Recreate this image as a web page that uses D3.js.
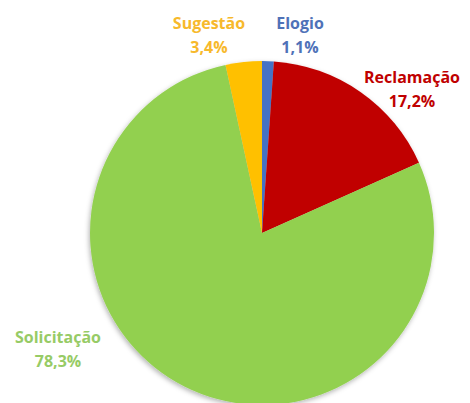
<!DOCTYPE html>
<html>
<head>
<meta charset="utf-8">
<script src="https://cdn.jsdelivr.net/npm/d3@7"></script>
<style>
  body { margin: 0; background: #fff; }
  text { font-family: "Open Sans", sans-serif; font-weight: bold; font-size: 16px; }
</style>
</head>
<body>
<script>
var categories = ['Elogio', 'Reclamação', 'Solicitação', 'Sugestão'];
var values     = [1.1, 17.2, 78.3, 3.4];
var labels     = ['1,1%', '17,2%', '78,3%', '3,4%'];

var sliceColors = ['#4472C4', '#C00000', '#92D050', '#FFC000'];
var textColors  = ['#4F72B8', '#C00000', '#97CB66', '#F7B92C'];

// label centres (x, first baseline)
var labelPos = {
  'Elogio':      [300, 29],
  'Reclamação':  [412, 83],
  'Solicitação': [58, 343],
  'Sugestão':    [209, 29]
};

var width  = 470,
    height = 403;

var cx = 262, cy = 233, radius = 172;

var svg = d3.select('body').append('svg')
    .attr('width', width)
    .attr('height', height);

var defs = svg.append('defs');
var filter = defs.append('filter')
    .attr('id', 'shadow')
    .attr('x', '-20%').attr('y', '-20%')
    .attr('width', '140%').attr('height', '140%');
filter.append('feDropShadow')
    .attr('dx', -1).attr('dy', 2)
    .attr('stdDeviation', 2.5)
    .attr('flood-color', '#000')
    .attr('flood-opacity', 0.3);

var data = categories.map(function(c, i) {
  return {name: c, value: values[i], label: labels[i], i: i};
});

var pie = d3.pie()
    .sort(null)
    .value(function(d) { return d.value; });

var arc = d3.arc()
    .innerRadius(0)
    .outerRadius(radius);

var g = svg.append('g')
    .attr('transform', 'translate(' + cx + ',' + cy + ')')
    .attr('filter', 'url(#shadow)');

g.selectAll('path')
    .data(pie(data))
  .enter().append('path')
    .attr('d', arc)
    .attr('fill', function(d) { return sliceColors[d.data.i]; });

var lab = svg.selectAll('text.lbl')
    .data(data)
  .enter().append('text')
    .attr('class', 'lbl')
    .attr('text-anchor', 'middle')
    .attr('fill', function(d) { return textColors[d.i]; });

lab.append('tspan')
    .attr('x', function(d) { return labelPos[d.name][0]; })
    .attr('y', function(d) { return labelPos[d.name][1]; })
    .text(function(d) { return d.name; });

lab.append('tspan')
    .attr('x', function(d) { return labelPos[d.name][0]; })
    .attr('y', function(d) { return labelPos[d.name][1] + 24; })
    .text(function(d) { return d.label; });
</script>
</body>
</html>
